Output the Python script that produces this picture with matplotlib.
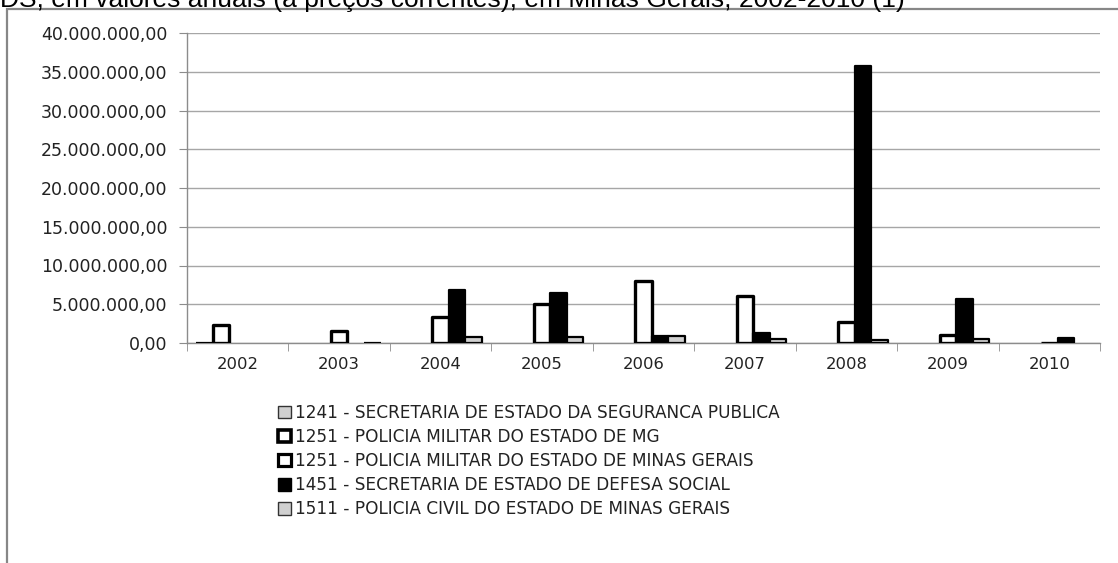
import matplotlib
matplotlib.use('Agg')
import matplotlib.pyplot as plt
import numpy as np
from matplotlib.patches import Patch, Rectangle
from matplotlib.ticker import FuncFormatter

# Years
years = ['2002', '2003', '2004', '2005', '2006', '2007', '2008', '2009', '2010']

# Series names
series_names = [
    '1241 - SECRETARIA DE ESTADO DA SEGURANCA PUBLICA',
    '1251 - POLICIA MILITAR DO ESTADO DE MG',
    '1251 - POLICIA MILITAR DO ESTADO DE MINAS GERAIS',
    '1451 - SECRETARIA DE ESTADO DE DEFESA SOCIAL',
    '1511 - POLICIA CIVIL DO ESTADO DE MINAS GERAIS',
]

# Values (R$), nan = no value for that year
nan = np.nan
sspub = [50000, nan, nan, nan, nan, nan, nan, nan, nan]
pm_mg = [2300000, nan, nan, nan, nan, nan, nan, nan, nan]
pm_minas = [nan, 1500000, 3300000, 5000000, 8000000, 6100000, 2700000, 1000000, 50000]
defesa = [nan, nan, 6800000, 6500000, 900000, 1300000, 35800000, 5700000, 700000]
pcivil = [nan, 50000, 800000, 800000, 900000, 500000, 400000, 500000, nan]

title = 'DS, em valores anuais (a preços correntes), em Minas Gerais, 2002-2010 (1)'

W, H = 1118, 563
fig = plt.figure(figsize=(W / 100, H / 100), dpi=100)
ax = fig.add_axes([187 / W, 1 - 343 / H, 913 / W, 310 / H])

# outer chart frame (cut off on the right and bottom)
fig.patches.append(Rectangle((7 / W, -0.1), 1.2, 1.1 - 9 / H, transform=fig.transFigure,
                             fill=False, edgecolor='#878787', lw=1.6, zorder=0))

fig.text(0, 1 - 7 / H, title, fontfamily='Liberation Sans', fontsize=19, va='baseline')

data = [sspub, pm_mg, pm_minas, defesa, pcivil]
faces = ['#d0d0d0', 'white', 'white', 'black', '#d0d0d0']
lws = [1.6, 2.4, 2.4, 1.6, 1.6]

x = np.arange(len(years))
w = 0.163
for i, vals in enumerate(data):
    v = np.asarray(vals, dtype=float)
    ok = ~np.isnan(v)
    ax.bar(x[ok] + (i - 2) * w, v[ok], w, color=faces[i], edgecolor='black', linewidth=lws[i],
           joinstyle='round', zorder=3)

ax.set_xlim(-0.5, len(years) - 0.5)
ax.set_ylim(0, 40000000)
ax.set_yticks(np.arange(0, 40000001, 5000000))

def brl(v, pos):
    s = '{:,.2f}'.format(v)
    return s.replace(',', 'X').replace('.', ',').replace('X', '.')

ax.yaxis.set_major_formatter(FuncFormatter(brl))
ax.set_xticks(x)
ax.set_xticklabels(years)
ax.set_xticks(np.arange(-0.5, len(years)), minor=True)

ax.grid(axis='y', color='#a6a6a6', lw=1, zorder=0)
ax.set_axisbelow(True)
for s in ['top', 'right']:
    ax.spines[s].set_visible(False)
for s in ['left', 'bottom']:
    ax.spines[s].set_color('#8c8c8c')
    ax.spines[s].set_linewidth(1)

ax.tick_params(axis='y', direction='out', length=6, color='#8c8c8c', pad=8,
               labelsize=12.5, labelcolor='#222222')
ax.tick_params(axis='x', which='major', length=0, pad=10, labelsize=11.8, labelcolor='#222222')
ax.tick_params(axis='x', which='minor', direction='out', length=6, color='#8c8c8c')
for lab in ax.get_xticklabels() + ax.get_yticklabels():
    lab.set_fontfamily('DejaVu Sans')

handles = [
    Patch(facecolor='#d0d0d0', edgecolor='#333333', lw=1.0),
    Patch(facecolor='white', edgecolor='black', lw=2.6),
    Patch(facecolor='white', edgecolor='black', lw=2.3),
    Patch(facecolor='black', edgecolor='black', lw=1.0),
    Patch(facecolor='#d0d0d0', edgecolor='#333333', lw=1.0),
]
leg = ax.legend(handles, series_names, loc='upper left',
                bbox_to_anchor=(278 / W, 1 - 404 / H), bbox_transform=fig.transFigure,
                frameon=False, borderpad=0, borderaxespad=0, handlelength=0.75,
                handleheight=0.75, handletextpad=0.25, labelspacing=0.36,
                prop={'family': 'DejaVu Sans', 'size': 12.2})
for t in leg.get_texts():
    t.set_color('#222222')

fig.savefig('out.png', dpi=100)
